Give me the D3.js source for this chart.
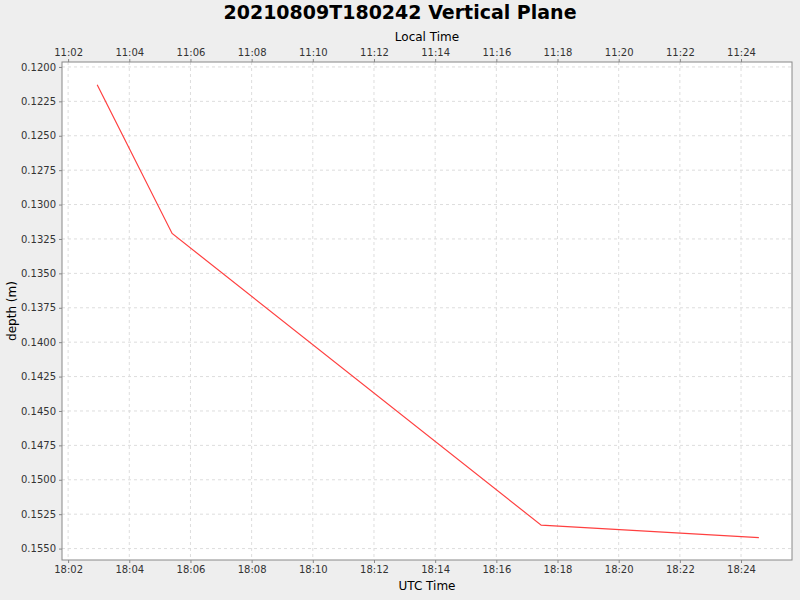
<!DOCTYPE html>
<html><head><meta charset="utf-8">
<script src="https://cdn.jsdelivr.net/npm/d3@7"></script>
<style>body{margin:0;background:#eeeeee;font-family:"DejaVu Sans",sans-serif}</style>
</head><body>
<script>
// data (UTC times, depth in metres)
const times = ["2021-08-09T18:02:57Z", "2021-08-09T18:05:24Z", "2021-08-09T18:17:28Z", "2021-08-09T18:24:35Z"];
const depths = [0.1213, 0.1321, 0.1533, 0.1542];
const yTicks = [0.1200, 0.1225, 0.1250, 0.1275, 0.1300, 0.1325, 0.1350, 0.1375, 0.1400, 0.1425, 0.1450, 0.1475, 0.1500, 0.1525, 0.1550];

const data = times.map((t, i) => ({t: new Date(t), d: depths[i]}));

var margin = {top: 62, right: 8, bottom: 40, left: 62},
    width = 800 - margin.left - margin.right,
    height = 600 - margin.top - margin.bottom;

var svg = d3.select("body").append("svg")
    .attr("width", 800).attr("height", 600);
svg.append("rect").attr("width", 800).attr("height", 600).attr("fill", "#eeeeee");
var g = svg.append("g").attr("transform", "translate(" + margin.left + "," + margin.top + ")");

var x = d3.scaleUtc()
    .domain([new Date("2021-08-09T18:01:48Z"), new Date("2021-08-09T18:25:40Z")])
    .range([0, width]);
var y = d3.scaleLinear().domain([0.11964, 0.15583]).range([0, height]);
var xTicks = d3.range(0, 12).map(i => new Date(Date.UTC(2021, 7, 9, 18, 2 + 2 * i)));

g.append("rect").attr("width", width).attr("height", height).attr("fill", "white");

// grid
g.selectAll(".vg").data(xTicks).enter().append("line")
    .attr("x1", d => x(d)).attr("x2", d => x(d)).attr("y1", 0).attr("y2", height)
    .attr("stroke", "#dddddd").attr("stroke-dasharray", "3,3");
g.selectAll(".hg").data(yTicks).enter().append("line")
    .attr("y1", d => y(d)).attr("y2", d => y(d)).attr("x1", 0).attr("x2", width)
    .attr("stroke", "#dddddd").attr("stroke-dasharray", "3,3");

g.append("path").datum(data)
    .attr("fill", "none").attr("stroke", "#ff4040").attr("stroke-width", 1.2)
    .attr("d", d3.line().x(d => x(d.t)).y(d => y(d.d)));

g.append("rect").attr("width", width).attr("height", height)
    .attr("fill", "none").attr("stroke", "#888888");

function styleAxis(a) {
    a.select(".domain").remove();
    a.selectAll("text").style("font", "10px 'DejaVu Sans'").attr("fill", "#333");
    a.selectAll("line").attr("stroke", "#888");
}

g.append("g").attr("transform", "translate(0," + height + ")")
    .call(d3.axisBottom(x).tickValues(xTicks).tickSize(3).tickFormat(d3.utcFormat("%H:%M")))
    .call(styleAxis);
g.append("g")
    .call(d3.axisTop(x).tickValues(xTicks).tickSize(3)
        .tickFormat(d => d3.utcFormat("%H:%M")(new Date(d.getTime() - 7 * 3600e3))))
    .call(styleAxis);
g.append("g")
    .call(d3.axisLeft(y).tickValues(yTicks).tickSize(3).tickFormat(d3.format(".4f")))
    .call(styleAxis);

svg.append("text").attr("x", 400).attr("y", 19).attr("text-anchor", "middle")
    .style("font", "bold 19px 'DejaVu Sans'").text("20210809T180242 Vertical Plane");
svg.append("text").attr("x", 427).attr("y", 41).attr("text-anchor", "middle")
    .style("font", "12px 'DejaVu Sans'").text("Local Time");
svg.append("text").attr("x", 427).attr("y", 590).attr("text-anchor", "middle")
    .style("font", "12px 'DejaVu Sans'").text("UTC Time");
svg.append("text").attr("transform", "translate(16," + (margin.top + height / 2) + ") rotate(-90)")
    .attr("text-anchor", "middle").style("font", "12px 'DejaVu Sans'").text("depth (m)");
</script>
</body></html>
